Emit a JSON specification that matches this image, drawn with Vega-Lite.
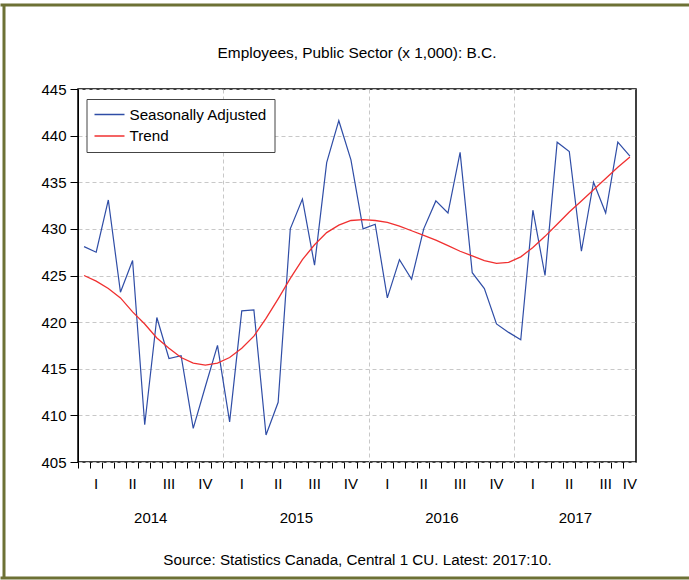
{
  "$schema": "https://vega.github.io/schema/vega-lite/v6.json",
  "width": 558,
  "height": 373,
  "autosize": "none",
  "padding": {"left": 78, "top": 89, "right": 53, "bottom": 118},
  "background": "white",
  "config": {
    "view": {"stroke": "#000", "strokeWidth": 1.5},
    "font": "Liberation Sans"
  },
  "layer": [
    {
      "data": {
        "values": [
          {"month": "2014-01", "series": "Seasonally Adjusted", "value": 428.1},
          {"month": "2014-02", "series": "Seasonally Adjusted", "value": 427.5},
          {"month": "2014-03", "series": "Seasonally Adjusted", "value": 433.1},
          {"month": "2014-04", "series": "Seasonally Adjusted", "value": 423.2},
          {"month": "2014-05", "series": "Seasonally Adjusted", "value": 426.6},
          {"month": "2014-06", "series": "Seasonally Adjusted", "value": 409.0},
          {"month": "2014-07", "series": "Seasonally Adjusted", "value": 420.5},
          {"month": "2014-08", "series": "Seasonally Adjusted", "value": 416.1},
          {"month": "2014-09", "series": "Seasonally Adjusted", "value": 416.4},
          {"month": "2014-10", "series": "Seasonally Adjusted", "value": 408.6},
          {"month": "2014-11", "series": "Seasonally Adjusted", "value": 413.1},
          {"month": "2014-12", "series": "Seasonally Adjusted", "value": 417.5},
          {"month": "2015-01", "series": "Seasonally Adjusted", "value": 409.3},
          {"month": "2015-02", "series": "Seasonally Adjusted", "value": 421.2},
          {"month": "2015-03", "series": "Seasonally Adjusted", "value": 421.3},
          {"month": "2015-04", "series": "Seasonally Adjusted", "value": 407.9},
          {"month": "2015-05", "series": "Seasonally Adjusted", "value": 411.4},
          {"month": "2015-06", "series": "Seasonally Adjusted", "value": 430.0},
          {"month": "2015-07", "series": "Seasonally Adjusted", "value": 433.2},
          {"month": "2015-08", "series": "Seasonally Adjusted", "value": 426.1},
          {"month": "2015-09", "series": "Seasonally Adjusted", "value": 437.1},
          {"month": "2015-10", "series": "Seasonally Adjusted", "value": 441.6},
          {"month": "2015-11", "series": "Seasonally Adjusted", "value": 437.4},
          {"month": "2015-12", "series": "Seasonally Adjusted", "value": 430.0},
          {"month": "2016-01", "series": "Seasonally Adjusted", "value": 430.5},
          {"month": "2016-02", "series": "Seasonally Adjusted", "value": 422.6},
          {"month": "2016-03", "series": "Seasonally Adjusted", "value": 426.7},
          {"month": "2016-04", "series": "Seasonally Adjusted", "value": 424.6},
          {"month": "2016-05", "series": "Seasonally Adjusted", "value": 430.0},
          {"month": "2016-06", "series": "Seasonally Adjusted", "value": 433.0},
          {"month": "2016-07", "series": "Seasonally Adjusted", "value": 431.7},
          {"month": "2016-08", "series": "Seasonally Adjusted", "value": 438.2},
          {"month": "2016-09", "series": "Seasonally Adjusted", "value": 425.3},
          {"month": "2016-10", "series": "Seasonally Adjusted", "value": 423.6},
          {"month": "2016-11", "series": "Seasonally Adjusted", "value": 419.8},
          {"month": "2016-12", "series": "Seasonally Adjusted", "value": 418.9},
          {"month": "2017-01", "series": "Seasonally Adjusted", "value": 418.1},
          {"month": "2017-02", "series": "Seasonally Adjusted", "value": 432.0},
          {"month": "2017-03", "series": "Seasonally Adjusted", "value": 425.0},
          {"month": "2017-04", "series": "Seasonally Adjusted", "value": 439.3},
          {"month": "2017-05", "series": "Seasonally Adjusted", "value": 438.3},
          {"month": "2017-06", "series": "Seasonally Adjusted", "value": 427.6},
          {"month": "2017-07", "series": "Seasonally Adjusted", "value": 435.0},
          {"month": "2017-08", "series": "Seasonally Adjusted", "value": 431.7},
          {"month": "2017-09", "series": "Seasonally Adjusted", "value": 439.3},
          {"month": "2017-10", "series": "Seasonally Adjusted", "value": 437.8},
          {"month": "2014-01", "series": "Trend", "value": 425.0},
          {"month": "2014-02", "series": "Trend", "value": 424.4},
          {"month": "2014-03", "series": "Trend", "value": 423.6},
          {"month": "2014-04", "series": "Trend", "value": 422.6},
          {"month": "2014-05", "series": "Trend", "value": 421.1},
          {"month": "2014-06", "series": "Trend", "value": 419.8},
          {"month": "2014-07", "series": "Trend", "value": 418.3},
          {"month": "2014-08", "series": "Trend", "value": 417.2},
          {"month": "2014-09", "series": "Trend", "value": 416.2},
          {"month": "2014-10", "series": "Trend", "value": 415.6},
          {"month": "2014-11", "series": "Trend", "value": 415.4},
          {"month": "2014-12", "series": "Trend", "value": 415.6},
          {"month": "2015-01", "series": "Trend", "value": 416.2},
          {"month": "2015-02", "series": "Trend", "value": 417.2},
          {"month": "2015-03", "series": "Trend", "value": 418.5},
          {"month": "2015-04", "series": "Trend", "value": 420.4},
          {"month": "2015-05", "series": "Trend", "value": 422.5},
          {"month": "2015-06", "series": "Trend", "value": 424.7},
          {"month": "2015-07", "series": "Trend", "value": 426.7},
          {"month": "2015-08", "series": "Trend", "value": 428.3},
          {"month": "2015-09", "series": "Trend", "value": 429.6},
          {"month": "2015-10", "series": "Trend", "value": 430.4},
          {"month": "2015-11", "series": "Trend", "value": 430.9},
          {"month": "2015-12", "series": "Trend", "value": 431.0},
          {"month": "2016-01", "series": "Trend", "value": 430.9},
          {"month": "2016-02", "series": "Trend", "value": 430.7},
          {"month": "2016-03", "series": "Trend", "value": 430.3},
          {"month": "2016-04", "series": "Trend", "value": 429.8},
          {"month": "2016-05", "series": "Trend", "value": 429.3},
          {"month": "2016-06", "series": "Trend", "value": 428.8},
          {"month": "2016-07", "series": "Trend", "value": 428.2},
          {"month": "2016-08", "series": "Trend", "value": 427.6},
          {"month": "2016-09", "series": "Trend", "value": 427.1},
          {"month": "2016-10", "series": "Trend", "value": 426.6},
          {"month": "2016-11", "series": "Trend", "value": 426.3},
          {"month": "2016-12", "series": "Trend", "value": 426.4},
          {"month": "2017-01", "series": "Trend", "value": 427.0},
          {"month": "2017-02", "series": "Trend", "value": 428.0},
          {"month": "2017-03", "series": "Trend", "value": 429.2},
          {"month": "2017-04", "series": "Trend", "value": 430.5},
          {"month": "2017-05", "series": "Trend", "value": 431.8},
          {"month": "2017-06", "series": "Trend", "value": 433.0},
          {"month": "2017-07", "series": "Trend", "value": 434.2},
          {"month": "2017-08", "series": "Trend", "value": 435.4},
          {"month": "2017-09", "series": "Trend", "value": 436.6},
          {"month": "2017-10", "series": "Trend", "value": 437.7}
        ]
      },
      "layer": [
        {
          "transform": [{"filter": "datum.series === 'Seasonally Adjusted'"}],
          "mark": {"type": "line", "strokeWidth": 1.2},
          "encoding": {
            "x": {
              "field": "month",
              "type": "ordinal",
              "bandPosition": 0.5,
              "scale": {"type": "band", "paddingInner": 0, "paddingOuter": 0},
              "axis": {
                "orient": "bottom",
                "title": null,
                "bandPosition": 0,
                "domain": false,
                "ticks": true,
                "tickSize": 6,
                "tickColor": "#000",
                "tickWidth": 1,
                "labels": true,
                "labelAngle": 0,
                "labelOffset": 0,
                "labelPadding": 8,
                "labelFontSize": 15,
                "labelFont": "Liberation Sans",
                "labelColor": "#000",
                "labelOverlap": false,
                "labelBound": false,
                "labelExpr": "slice(datum.value,5)==='02' ? 'I' : slice(datum.value,5)==='05' ? 'II' : slice(datum.value,5)==='08' ? 'III' : (slice(datum.value,5)==='11' || datum.value==='2017-10') ? 'IV' : ''",
                "grid": true,
                "gridColor": "#c8c8c8",
                "gridDash": [4, 3],
                "gridWidth": 1,
                "gridOpacity": {"condition": {"test": "slice(datum.value,5)==='01'", "value": 1}, "value": 0}
              }
            },
            "y": {
              "field": "value",
              "type": "quantitative",
              "scale": {"domain": [405, 445], "zero": false, "nice": false},
              "axis": {
                "orient": "left",
                "title": null,
                "values": [405, 410, 415, 420, 425, 430, 435, 440, 445],
                "domain": true,
                "domainColor": "#000",
                "tickSize": 8,
                "tickColor": "#000",
                "labelPadding": 4,
                "labelFontSize": 15,
                "labelFont": "Liberation Sans",
                "labelColor": "#000",
                "grid": true,
                "gridColor": "#c8c8c8",
                "gridDash": [4, 3],
                "gridWidth": 1
              }
            },
            "color": {
              "field": "series",
              "type": "nominal",
              "scale": {"domain": ["Seasonally Adjusted", "Trend"], "range": ["#2f4da6", "#f03030"]},
              "legend": {
                "title": null,
                "orient": "none",
                "legendX": 8.5,
                "legendY": 10,
                "direction": "vertical",
                "padding": 7,
                "strokeColor": "#444",
                "fillColor": "#fff",
                "symbolType": "M-1,0H3",
                "symbolSize": 225,
                "symbolStrokeWidth": 1.5,
                "labelFontSize": 15.2,
                "labelFont": "Liberation Sans",
                "labelColor": "#000",
                "labelOffset": 19,
                "rowPadding": 4.5,
                "labelLimit": 300
              }
            }
          }
        },
        {
          "transform": [{"filter": "datum.series === 'Trend'"}],
          "mark": {"type": "line", "strokeWidth": 1.3},
          "encoding": {
            "x": {
              "field": "month",
              "type": "ordinal",
              "bandPosition": 0.5,
              "scale": {"type": "band", "paddingInner": 0, "paddingOuter": 0},
              "axis": {
                "orient": "bottom",
                "bandPosition": 0,
                "values": ["2014-07", "2015-07", "2016-07", "2017-06"],
                "domain": false,
                "ticks": false,
                "grid": false,
                "labelAngle": 0,
                "labelOffset": -6.07,
                "labelExpr": "slice(datum.value,0,4)",
                "labelPadding": 48,
                "labelFontSize": 15,
                "labelFont": "Liberation Sans",
                "labelColor": "#000",
                "labelOverlap": false,
                "labelBound": false,
                "title": "Source: Statistics Canada, Central 1 CU. Latest: 2017:10.",
                "titleFont": "Liberation Sans",
                "titleFontSize": 15.2,
                "titleFontWeight": "normal",
                "titleColor": "#000",
                "titlePadding": 27
              }
            },
            "y": {"field": "value", "type": "quantitative", "scale": {"domain": [405, 445], "zero": false, "nice": false}},
            "color": {"field": "series", "type": "nominal"}
          }
        }
      ],
      "resolve": {"axis": {"x": "independent"}}
    },
    {
      "data": {"values": [{"f": 0}, {"f": 1}]},
      "mark": {"type": "point", "opacity": 0},
      "encoding": {
        "x": {
          "field": "f",
          "type": "quantitative",
          "scale": {"domain": [0, 1], "range": [-78, 635], "nice": false, "zero": false},
          "axis": {
            "orient": "top",
            "offset": 84.5,
            "domainColor": "#6d7135",
            "domainWidth": 3,
            "ticks": false,
            "labels": false,
            "grid": false,
            "title": "Employees, Public Sector (x 1,000): B.C.",
            "titleFont": "Liberation Sans",
            "titleFontSize": 15.4,
            "titleFontWeight": "normal",
            "titleColor": "#000",
            "titleY": 47.5,
            "titleBaseline": "middle"
          }
        },
        "y": {
          "field": "f",
          "type": "quantitative",
          "scale": {"domain": [0, 1], "range": [489, -85], "nice": false, "zero": false},
          "axis": {
            "orient": "left",
            "offset": 74.5,
            "domainColor": "#6d7135",
            "domainWidth": 3,
            "ticks": false,
            "labels": false,
            "grid": false,
            "title": null
          }
        }
      }
    },
    {
      "data": {"values": [{"f": 0}, {"f": 1}]},
      "mark": {"type": "point", "opacity": 0},
      "encoding": {
        "x": {
          "field": "f",
          "type": "quantitative",
          "scale": {"domain": [0, 1], "range": [-78, 635], "nice": false, "zero": false},
          "axis": {
            "orient": "bottom",
            "offset": 115.5,
            "domainColor": "#6d7135",
            "domainWidth": 3,
            "ticks": false,
            "labels": false,
            "grid": false,
            "title": null
          }
        },
        "y": {
          "field": "f",
          "type": "quantitative",
          "scale": {"domain": [0, 1], "range": [489, -85], "nice": false, "zero": false},
          "axis": null
        }
      }
    }
  ],
  "resolve": {
    "scale": {"x": "independent", "y": "independent"},
    "axis": {"x": "independent", "y": "independent"}
  }
}
